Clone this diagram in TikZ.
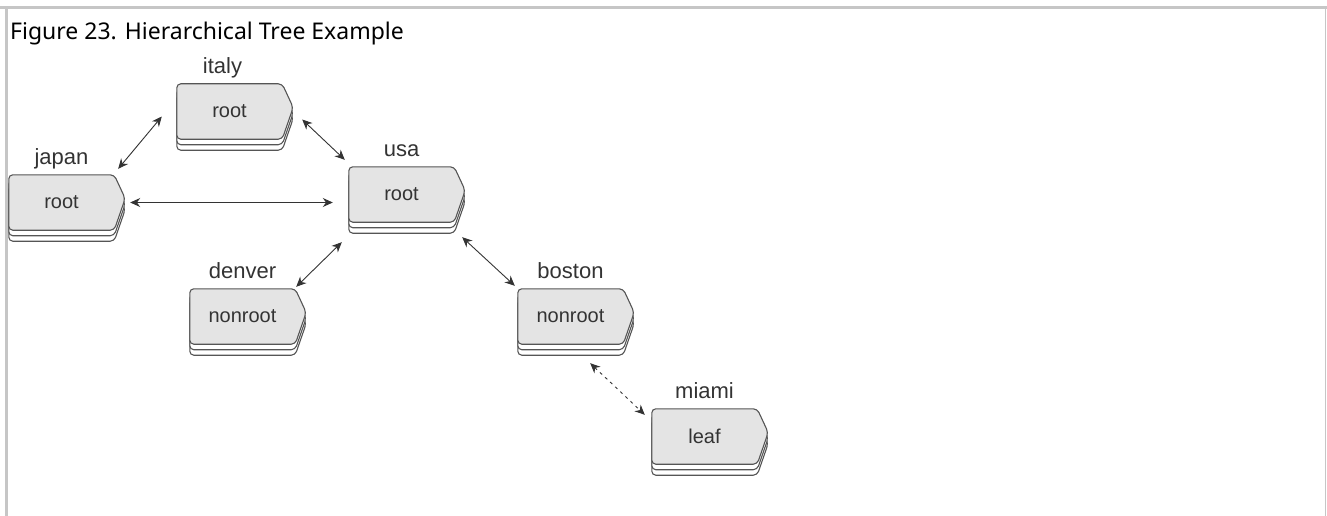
\documentclass[tikz,border=0pt]{standalone}
\usepackage{fontspec}
\setmainfont{Liberation Sans}
\newfontfamily\captionfont{Noto Sans}
\usetikzlibrary{arrows.meta, positioning, backgrounds}

\definecolor{edgegray}{HTML}{555555}
\definecolor{facegray}{HTML}{E4E4E4}
\definecolor{framegray}{HTML}{C6C6C6}
\definecolor{inkgray}{HTML}{333333}

% outline of one sheet of a stacked tag, #2 = vertical offset
\newcommand{\tagoutline}[2]{%
  ([yshift=#2]#1.north east) -- ([shift={(11,-4)},yshift=#2]#1.east)
  -- ([yshift=#2]#1.south east) -- ([yshift=#2]#1.south west)
  -- ([yshift=#2]#1.north west) -- cycle}

\begin{document}
\begin{tikzpicture}[x=1pt, y=-1pt,
    tagbox/.style={minimum width=105pt, minimum height=55pt, inner sep=0pt,
                   text=inkgray, font=\fontsize{20}{24}\selectfont},
    tagname/.style={text=inkgray, inner sep=0pt, anchor=base,
                    font=\fontsize{22}{26}\selectfont},
    sheet/.style={draw=edgegray, fill=white, line width=1.1pt, rounded corners=4pt},
    face/.style={draw=edgegray, fill=facegray, line width=1.1pt, rounded corners=4pt},
    link/.style={{Stealth[length=10pt,width=9pt]}-{Stealth[length=10pt,width=9pt]},
                 draw=inkgray, line width=0.9pt},
    weaklink/.style={link, dash pattern=on 3pt off 4pt}]
  \useasboundingbox (0,0) rectangle (1327,516);

  % page frame
  \draw[framegray, line width=3pt] (0,8) -- (1327,8);
  \draw[framegray, line width=2.5pt] (6.5,9) -- (6.5,516);
  \draw[framegray, line width=1.5pt] (1325.5,9) -- (1325.5,516);

  \node[anchor=base west, inner sep=0pt, font=\captionfont\fontsize{23}{28}\selectfont]
    (caption) at (10,40) {Figure 23. Hierarchical Tree Example};

  % hosts
  \node[tagbox] (italy)  at (229.5,111.5) {root};
  \node[tagbox] (japan)  at (61.5,202.5)  {root};
  \node[tagbox] (usa)    at (401.5,194.5) {root};
  \node[tagbox] (denver) at (242.5,316.5) {nonroot};
  \node[tagbox] (boston) at (570.5,316.5) {nonroot};
  \node[tagbox] (miami)  at (704.5,436.5) {leaf};

  \node[tagname, above=10pt of italy.north, anchor=base, xshift=-7pt] (italy-name) {italy};
  \node[tagname, above=10pt of japan.north, anchor=base] (japan-name) {japan};
  \node[tagname, above=10pt of usa.north, anchor=base] (usa-name) {usa};
  \node[tagname, above=10pt of denver.north, anchor=base] (denver-name) {denver};
  \node[tagname, above=10pt of boston.north, anchor=base] (boston-name) {boston};
  \node[tagname, above=10pt of miami.north, anchor=base] (miami-name) {miami};

  % stacked sheets behind the text
  \begin{scope}[on background layer]
    \foreach \n in {italy,japan,usa,denver,boston,miami}{
      \draw[sheet] \tagoutline{\n}{-11pt};
      \draw[sheet] \tagoutline{\n}{-5.5pt};
      \draw[face]  \tagoutline{\n}{0pt};
    }
  \end{scope}

  % links
  \draw[link] ([shift={(-15,5)}]italy.west) -- ([shift={(4,-6)}]japan.north east);
  \draw[link] ([shift={(20,8)}]italy.east) -- ([shift={(-4,-7)}]usa.north west);
  \draw[link] ([xshift=16pt]japan.east) -- ([xshift=-16pt]japan.east -| usa.west);
  \draw[link] ([shift={(-7,20)}]usa.south west) -- ([shift={(1,-2)}]denver.north east);
  \draw[link] ([shift={(8,15)}]usa.south east) -- ([shift={(-3,-3)}]boston.north west);
  \draw[weaklink] ([shift={(-33,19)}]boston.south east) -- ([shift={(-7,6)}]miami.north west);
\end{tikzpicture}
\end{document}
